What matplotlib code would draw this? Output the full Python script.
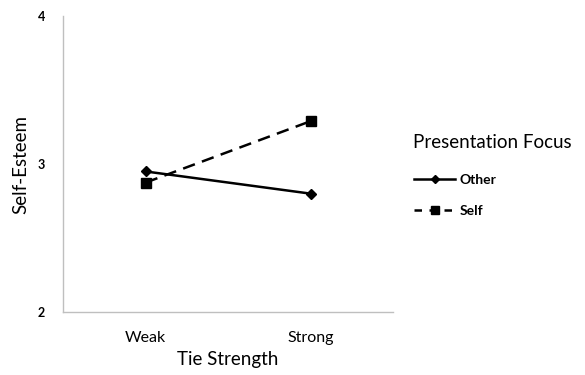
import matplotlib
matplotlib.use("Agg")
import matplotlib.pyplot as plt
from matplotlib.lines import Line2D

# data
categories = ["Weak", "Strong"]
other_vals = [2.95, 2.80]
self_vals = [2.875, 3.29]
y_ticks = [2, 3, 4]

plt.rcParams["font.family"] = ["Lato", "DejaVu Sans"]

fig = plt.figure(figsize=(5.85, 3.75), dpi=100)
ax = fig.add_axes([0.108, 0.168, 0.564, 0.789])

xs = [0, 1]
ax.plot(xs, other_vals, "-", color="black", lw=1.8, marker="D", ms=5, label="Other")
ax.plot(xs, self_vals, "--", color="black", lw=1.8, marker="s", ms=7,
        dashes=(5, 3), label="Self")

ax.set_xlim(-0.5, 1.5)
ax.set_ylim(2, 4)
ax.set_xticks(xs)
ax.set_xticklabels(categories, fontsize=11.5)
ax.set_yticks(y_ticks)
ax.set_yticklabels([str(t) for t in y_ticks], fontsize=9, fontweight="bold")
ax.tick_params(axis="both", length=0)
ax.tick_params(axis="x", pad=14)
ax.tick_params(axis="y", pad=13)

for s in ["top", "right"]:
    ax.spines[s].set_visible(False)
for s in ["left", "bottom"]:
    ax.spines[s].set_color("#bfbfbf")
    ax.spines[s].set_linewidth(1.0)

ax.set_xlabel("Tie Strength", fontsize=13.5, labelpad=4)
ax.set_ylabel("Self-Esteem", fontsize=13.5, labelpad=6)

# legend title drawn separately so the gap to the entries can match
fig.text(0.706, 0.621, "Presentation Focus", fontsize=13.5, va="center", ha="left")
handles = [
    Line2D([0], [0], color="black", lw=1.8, marker="D", ms=4.5),
    Line2D([0], [0], color="black", lw=1.8, ls="--", dashes=(3, 3), marker="s", ms=6),
]
fig.legend(handles, ["Other", "Self"], loc="upper left",
           bbox_to_anchor=(0.686, 0.569), frameon=False,
           prop={"size": 10, "weight": "bold"}, handlelength=3.0,
           handletextpad=0.3, labelspacing=1.36)

fig.savefig("out.png", dpi=100)
